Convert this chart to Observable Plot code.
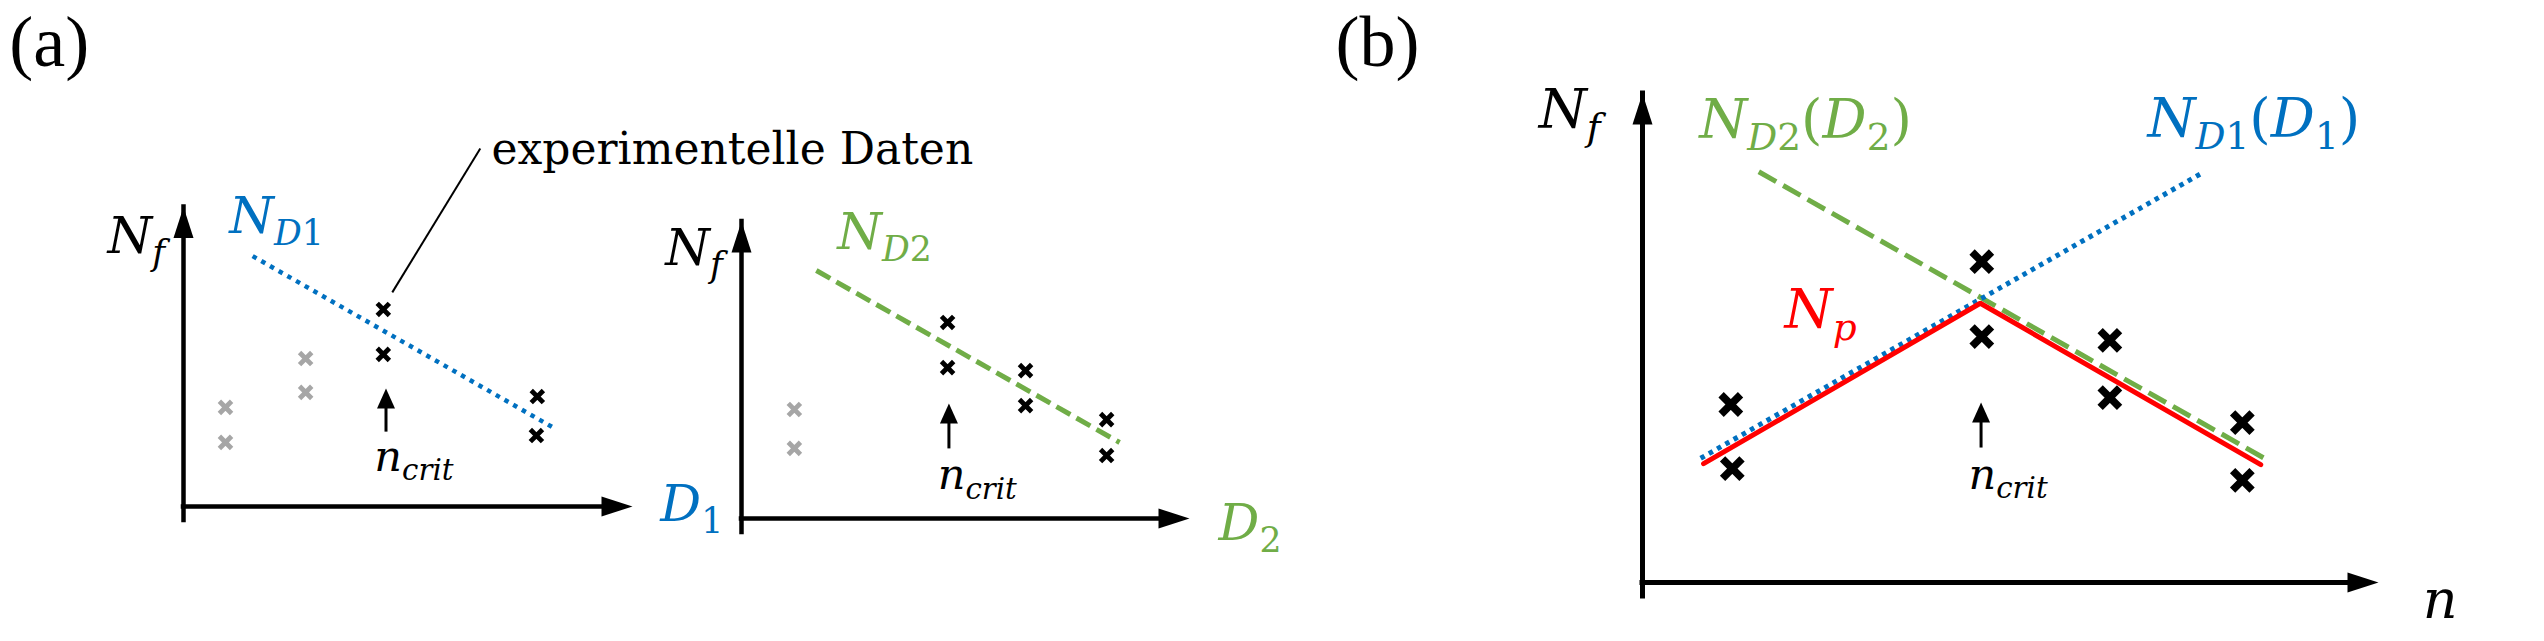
<!DOCTYPE html>
<html><head><meta charset="utf-8">
<script src="https://cdn.jsdelivr.net/npm/d3@7"></script>
<script src="https://cdn.jsdelivr.net/npm/@observablehq/plot@0.6"></script>
<style>
body{margin:0;background:#fff;}
#fig{position:relative;width:2544px;height:641px;overflow:hidden;background:#fff;}
#fig svg{position:absolute;top:0;}
</style></head><body><div id="fig"></div>
<script>
// ---------- data (schematic values, axis units 0..100) ----------
// Panel (a) left: N_f over D1
const a1Fit = [{x: 15.4, y: 83.6}, {x: 83.1, y: 25.7}];
const a1Data = [{x: 44.5, y: 65.8}, {x: 44.5, y: 50.8}, {x: 78.8, y: 36.7}, {x: 78.6, y: 23.7}];
const a1Excluded = [{x: 27.2, y: 49.4}, {x: 27.2, y: 38.1}, {x: 9.35, y: 33.1}, {x: 9.35, y: 21.4}];
const a1Crit = [{x: 45.1, y1: 25.0, y2: 39.4}];
const a1Leader = [{x1: 46.5, y1: 71.5, x2: 66.1, y2: 119.5}];
const a1Labels = [
  {x: -16.9, y: 84.5, label: "$N_{f}$", series: "axis"},
  {x: 10.2, y: 91.2, label: "$N_{D1}$", series: "D1"},
  {x: 106.2, y: -5.0, label: "$D_{1}$", series: "D1"}
];
const a1CritLabel = [{x: 42.5, y: 12.0, label: "$n_{crit}$"}];
const a1Note = [{x: 68.6, y: 114.4, label: "experimentelle Daten"}];
const a1Tag = [{x: -38.8, y: 147.2, label: "(a)"}];

// Panel (a) right: N_f over D2
const a2Fit = [{x: 16.7, y: 83.5}, {x: 84.4, y: 25.6}];
const a2Data = [{x: 46.0, y: 66.0}, {x: 46.0, y: 50.8}, {x: 63.4, y: 49.8}, {x: 63.4, y: 38.0}, {x: 81.5, y: 33.3}, {x: 81.5, y: 21.2}];
const a2Excluded = [{x: 11.8, y: 36.7}, {x: 11.8, y: 23.6}];
const a2Crit = [{x: 46.3, y1: 23.6, y2: 38.7}];
const a2Labels = [
  {x: -17.0, y: 85.2, label: "$N_{f}$", series: "axis"},
  {x: 21.4, y: 90.6, label: "$N_{D2}$", series: "D2"},
  {x: 106.5, y: -7.4, label: "$D_{2}$", series: "D2"}
];
const a2CritLabel = [{x: 43.8, y: 9.8, label: "$n_{crit}$"}];

// Panel (b): N_f over n
const bD2 = [{x: 15.8, y: 84.0}, {x: 84.5, y: 25.4}];
const bD1 = [{x: 7.9, y: 25.4}, {x: 76.1, y: 83.8}];
const bNp = [{x: 8.3, y: 24.3}, {x: 45.9, y: 57.1}, {x: 84.0, y: 24.1}];
const bData = [{x: 12.0, y: 36.4}, {x: 12.2, y: 23.3}, {x: 46.1, y: 65.6}, {x: 46.1, y: 50.3},
               {x: 63.5, y: 49.5}, {x: 63.5, y: 37.8}, {x: 81.5, y: 32.7}, {x: 81.5, y: 20.9}];
const bCrit = [{x: 46.0, y1: 27.6, y2: 36.8}];
const bLabels = [
  {x: -14.1, y: 93.0, label: "$N_{f}$", series: "axis"},
  {x: 7.7, y: 91.0, label: "$N_{D2}(D_{2})$", series: "D2"},
  {x: 68.6, y: 91.2, label: "$N_{D1}(D_{1})$", series: "D1"},
  {x: 19.3, y: 52.1, label: "$N_{p}$", series: "p"}
];
const bAxisLabel = [{x: 106.0, y: -7.2, label: "$n$"}];
const bCritLabel = [{x: 44.3, y: 19.2, label: "$n_{crit}$"}];
const bTag = [{x: -41.7, y: 105.7, label: "(b)"}];

// ---------- styles ----------
const COLORS = {axis: "black", D1: "#0070C0", D2: "#70AD47", p: "#FF0000"};
const GRAY = "#A6A6A6";
const FONT_MATH = "DejaVu Serif";
const FONT_TAG = "Liberation Serif";
const AX = 100;
const axisTips = [{x: 0, y: AX, dir: 0}, {x: AX, y: 0, dir: 90}];
const triangle = {draw(c, l, r) { c.moveTo(-r, 0); c.lineTo(0, -l); c.lineTo(r, 0); c.closePath(); }};

function axesMarks(sw) {
  return [
    Plot.ruleY([0], {x1: 0, x2: AX, stroke: "black", strokeWidth: sw, insetRight: 14, strokeLinecap: "square"}),
    Plot.ruleX([0], {y1: 0, y2: AX, stroke: "black", strokeWidth: sw, insetTop: 14, strokeLinecap: "square"}),
    Plot.vector(axisTips, {x: "x", y: "y", rotate: "dir", length: 31, r: 10, anchor: "end", shape: triangle, fill: "black", stroke: "none"})
  ];
}
function critMarks(data) {
  return [
    Plot.arrow(data, {x1: "x", x2: "x", y1: "y1", y2: "y2", headLength: 0, insetEnd: 10, stroke: "black", strokeWidth: 3, strokeLinecap: "butt"}),
    Plot.vector(data, {x: "x", y: "y2", length: 20, r: 9, anchor: "end", shape: triangle, fill: "black", stroke: "none"})
  ];
}
function textMark(data, size, fill, font) {
  return Plot.text(data, {x: "x", y: "y", text: "label", fontSize: size, fontFamily: font || FONT_MATH,
    fill: fill || (d => COLORS[d.series]), textAnchor: "start", lineAnchor: "bottom"});
}
function crosses(data, color, r, sw) {
  return Plot.dot(data, {x: "x", y: "y", symbol: "times", r, stroke: color, strokeWidth: sw});
}

const SVGNS = "http://www.w3.org/2000/svg";
function renderMath(el) {
  const s = el.textContent;
  if (!/^\$.*\$$/.test(s)) return;
  const F = parseFloat(getComputedStyle(el).fontSize);
  const body = s.slice(1, -1);
  const parts = [];
  const re = /_\{([^}]*)\}/g; let last = 0, m;
  while ((m = re.exec(body))) {
    if (m.index > last) parts.push([body.slice(last, m.index), false]);
    parts.push([m[1], true]); last = re.lastIndex;
  }
  if (last < body.length) parts.push([body.slice(last), false]);
  el.textContent = "";
  let down = false;
  for (const [t, sub] of parts) {
    const runs = t.match(/[A-Za-z]+|[^A-Za-z]+/g) || [];
    runs.forEach((r, i) => {
      const ts = document.createElementNS(SVGNS, "tspan");
      ts.textContent = r;
      ts.setAttribute("font-style", /[A-Za-z]/.test(r) ? "italic" : "normal");
      if (sub) ts.setAttribute("font-size", (0.68 * F) + "px");
      if (i === 0 && sub !== down) { ts.setAttribute("dy", (sub ? 0.22 * F : -0.22 * F) + "px"); down = sub; }
      el.appendChild(ts);
    });
  }
}

const fig = document.getElementById("fig");
function panel(left, width, m, marks) {
  const svg = Plot.plot({
    width, height: 641,
    marginLeft: m[0], marginRight: m[1], marginTop: m[2], marginBottom: m[3],
    x: {domain: [0, AX], axis: null},
    y: {domain: [0, AX], axis: null},
    style: "background: transparent; overflow: visible; max-width: none;",
    marks
  });
  svg.style.left = left + "px";
  fig.appendChild(svg);
  svg.querySelectorAll("text").forEach(renderMath);
}

// Panel (a) left
panel(0, 690, [183, 58, 206.5, 135], [
  ...axesMarks(4.5),
  Plot.line(a1Fit, {x: "x", y: "y", stroke: COLORS.D1, strokeWidth: 4.5, strokeDasharray: "4.5,5.5", strokeLinecap: "butt"}),
  crosses(a1Excluded, GRAY, 5.6, 4.8),
  crosses(a1Data, "black", 5.6, 4.8),
  ...critMarks(a1Crit),
  Plot.link(a1Leader, {x1: "x1", y1: "y1", x2: "x2", y2: "y2", stroke: "black", strokeWidth: 2}),
  textMark(a1Labels, 51),
  textMark(a1CritLabel, 43, "black"),
  textMark(a1Note, 44, "black"),
  textMark(a1Tag, 72, "black", FONT_TAG)
]);

// Panel (a) right
panel(690, 610, [51, 111, 221, 123], [
  ...axesMarks(4.5),
  Plot.line(a2Fit, {x: "x", y: "y", stroke: COLORS.D2, strokeWidth: 5, strokeDasharray: "16,7", strokeLinecap: "butt"}),
  crosses(a2Excluded, GRAY, 5.6, 4.8),
  crosses(a2Data, "black", 5.6, 4.8),
  ...critMarks(a2Crit),
  textMark(a2Labels, 51),
  textMark(a2CritLabel, 43, "black")
]);

// Panel (b)
panel(1300, 1244, [342, 166, 93, 59], [
  ...axesMarks(5),
  Plot.line(bD2, {x: "x", y: "y", stroke: COLORS.D2, strokeWidth: 5, strokeDasharray: "20,8", strokeLinecap: "butt"}),
  Plot.line(bD1, {x: "x", y: "y", stroke: COLORS.D1, strokeWidth: 5, strokeDasharray: "4.5,5", strokeLinecap: "butt"}),
  Plot.line(bNp, {x: "x", y: "y", stroke: COLORS.p, strokeWidth: 5, strokeLinejoin: "miter"}),
  crosses(bData, "black", 8.9, 7.5),
  ...critMarks(bCrit),
  textMark(bLabels, 55),
  textMark(bAxisLabel, 54, "black"),
  textMark(bCritLabel, 43, "black"),
  textMark(bTag, 72, "black", FONT_TAG)
]);
</script></body></html>
